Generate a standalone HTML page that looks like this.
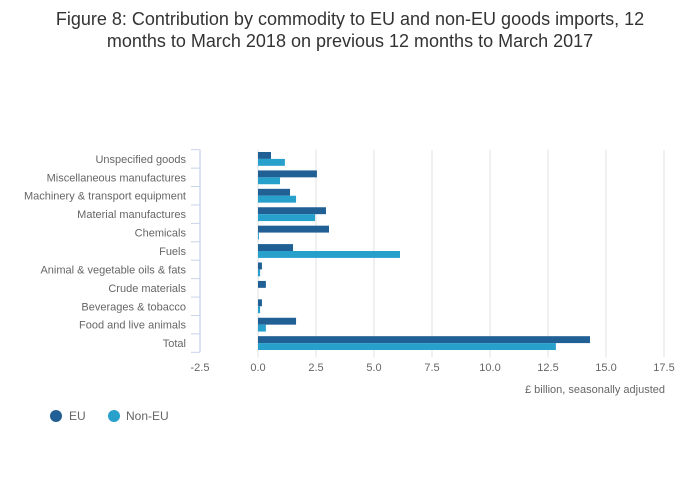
<!DOCTYPE html>
<html><head><meta charset="utf-8"><style>
body{margin:0;background:#fff;font-family:"Liberation Sans",sans-serif}
#wrap{position:relative;width:700px;height:502px;overflow:hidden}
</style></head><body>
<div id="wrap">
<svg id="svg" width="700" height="502" xmlns="http://www.w3.org/2000/svg">
<text x="350" y="25" text-anchor="middle" font-size="18" fill="#333">Figure 8: Contribution by commodity to EU and non-EU goods imports, 12</text>
<text x="350" y="47" text-anchor="middle" font-size="18" fill="#333">months to March 2018 on previous 12 months to March 2017</text>
<g id="grid"></g><g id="bars"></g><g id="axes"></g>
<text x="665" y="393" text-anchor="end" font-size="11" fill="#666">£ billion, seasonally adjusted</text>
<g>
<circle cx="56" cy="416" r="6" fill="#206095"/>
<text x="69" y="420" font-size="12" fill="#666">EU</text>
<circle cx="114" cy="416" r="6" fill="#27a0cc"/>
<text x="126" y="420" font-size="12" fill="#666">Non-EU</text>
</g>
</svg></div>
<script>
const categories=["Unspecified goods","Miscellaneous manufactures","Machinery & transport equipment","Material manufactures","Chemicals","Fuels","Animal & vegetable oils & fats","Crude materials","Beverages & tobacco","Food and live animals","Total"];
const euValues=[0.56,2.54,1.38,2.93,3.06,1.51,0.17,0.34,0.17,1.64,14.31];
const nonEuValues=[1.16,0.95,1.64,2.46,0.04,6.12,0.09,0,0.09,0.34,12.84];
const xTicks=[-2.5,0,2.5,5,7.5,10,12.5,15,17.5];
const xTickLabels=["-2.5","0.0","2.5","5.0","7.5","10.0","12.5","15.0","17.5"];
const NS="http://www.w3.org/2000/svg";
const x0=200,x1=664,dmin=-2.5,dmax=17.5,yTop=149.7,yBottom=352.3;
const band=(yBottom-yTop)/categories.length;
function xs(v){return x0+(v-dmin)/(dmax-dmin)*(x1-x0);}
function ys(i){return yTop+i*band;}
function mk(t,a,p){const e=document.createElementNS(NS,t);for(const k in a)e.setAttribute(k,a[k]);p.appendChild(e);return e;}
const grid=document.getElementById('grid'),bars=document.getElementById('bars'),axes=document.getElementById('axes');
xTicks.forEach((t,i)=>{
 if(t!==dmin){const l=mk('line',{x1:xs(t),x2:xs(t),y1:yTop,y2:yBottom+5,stroke:'#e0e0e0','stroke-width':1},grid);
 
 }
 const tx=mk('text',{x:xs(t),y:371,'text-anchor':'middle','font-size':11,fill:'#666'},axes);
 tx.textContent=xTickLabels[i];
 
 
});
const ax=mk('line',{x1:x0,x2:x0,y1:yTop,y2:yBottom,stroke:'#c8d3ea','stroke-width':1.3},axes);


for(let i=0;i<=categories.length;i++){
 const tk=mk('line',{x1:x0-9,x2:x0,y1:ys(i),y2:ys(i),stroke:'#c8d3ea','stroke-width':1},axes);
 
 
}
categories.forEach((c,i)=>{
 const tx=mk('text',{x:186,y:ys(i)+band/2+4,'text-anchor':'end','font-size':11,fill:'#666'},axes);
 tx.textContent=c;
 
 
 const pad=2.3,bh=(band-2*pad)/2;
 [[euValues[i],'#206095','bar-eu'],[nonEuValues[i],'#27a0cc','bar-non-eu']].forEach((s,j)=>{
  const v=s[0];const a=xs(Math.min(0,v)),b=xs(Math.max(0,v));
  const r=mk('rect',{x:a,y:ys(i)+pad+j*bh,width:Math.max(0,b-a),height:bh,fill:s[1]},bars);
  
  
 });
});
</script>
</body></html>
